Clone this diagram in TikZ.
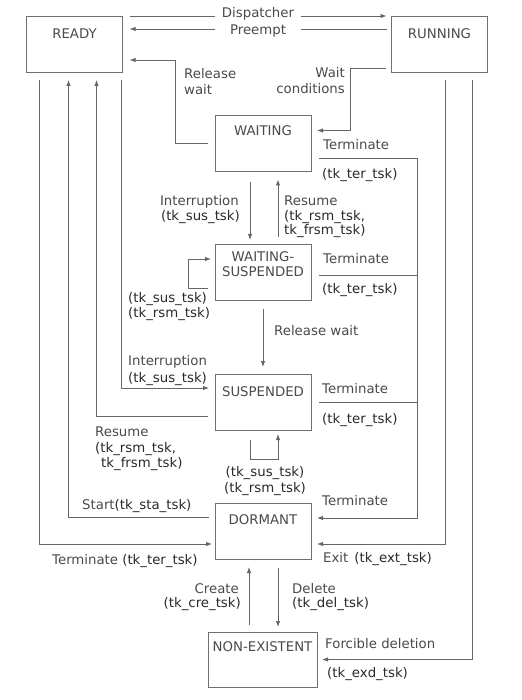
\documentclass[tikz,border=0pt]{standalone}
\usepackage{fontspec}
\setmainfont{DejaVu Sans}
\usetikzlibrary{arrows.meta,calc}
\definecolor{lc}{HTML}{666666}
\definecolor{bc}{HTML}{707070}
\definecolor{tg}{HTML}{4A4A4A}
\definecolor{tkc}{HTML}{2A2830}
\begin{document}
\begin{tikzpicture}[x=1pt,y=-1pt,
  font=\fontsize{13.3}{15}\selectfont,
  box/.style={draw=bc, line width=0.95pt, minimum width=96pt, minimum height=56pt, inner sep=0pt, outer sep=0pt},
  arr/.style={draw=lc, line width=0.9pt, -{Latex[length=6pt,width=4.5pt]}},
  ln/.style={draw=lc, line width=0.9pt},
  lb/.style={text=tg, inner sep=0pt, text height=9.6pt, text depth=0pt},
  tkl/.style={lb, text=tkc},
  gapnode/.style={lb, minimum width=86pt}
]
\useasboundingbox[fill=white] (0,0) rectangle (521,700);

% boxes
\node[box] (ready) at (74.5,44) {};
\node[box] (running) at (439.5,44) {};
\node[box] (waiting) at (263,143.5) {};
\node[box] (wsusp) at (263,272) {};
\node[box] (susp) at (263,402) {};
\node[box] (dormant) at (263,531) {};
\node[box, minimum width=109pt, minimum height=55pt] (nonex) at (262.5,659.5) {};

% box texts
\node[lb] (readyt) at (74.5,34) {READY};
\node[lb] (runningt) at (439.5,34) {RUNNING};
\node[lb] (waitingt) at (263,130.5) {WAITING};
\node[lb] (wsuspt1) at (263,257) {WAITING-};
\node[lb] (wsuspt2) at (263,271.5) {SUSPENDED};
\node[lb] (suspt) at (263,392) {SUSPENDED};
\node[lb] (dormantt) at (263,519.5) {DORMANT};
\node[lb] (nonext) at (262.5,647) {NON-EXISTENT};

% Dispatcher / Preempt
\node[gapnode] (disp) at (258,13) {Dispatcher};
\node[gapnode] (pre) at (258,30) {Preempt};
\coordinate (dy) at ([shift={(0,0)}]ready.north east);
\coordinate (py) at ([shift={(0,13)}]ready.north east);
\draw[ln] ([shift={(7,0)}]ready.north east) -- (disp.west |- dy);
\draw[arr] (disp.east |- dy) -- ([shift={(-5,0)}]running.north west);
\draw[ln] ([shift={(-5,13)}]running.north west) -- (pre.east |- py);
\draw[arr] (pre.west |- py) -- ([shift={(7,13)}]ready.north east);

% Release wait
\draw[arr] ([shift={(-7,0)}]waiting.west) -- ++(-33,0) |- ([shift={(7,-12)}]ready.south east);
\node[lb, anchor=west] (rw1) at (184,74) {Release};
\node[lb, anchor=west] (rw2) at (184,89.5) {wait};

% Wait conditions
\draw[arr] ([shift={(-6,-4)}]running.south west) -- ++(-35,0) |- ([shift={(6,-13)}]waiting.east);
\node[lb, anchor=east] (wc1) at (345,72.5) {Wait};
\node[lb, anchor=east] (wc2) at (345,88.5) {conditions};

% Terminate trunk
\draw[arr] ([shift={(8,-13)}]waiting.south east) -- ++(98,0) |- ([shift={(6,-13)}]dormant.east);
\draw[ln] ([shift={(8,3)}]wsusp.east) -- ++(98,0);
\draw[ln] ([shift={(8,0)}]susp.east) -- ++(98,0);
\node[lb, anchor=west] (t1a) at (323,144.5) {Terminate};
\node[tkl, anchor=west] (t1b) at (322,174) {(tk\_ter\_tsk)};
\node[lb, anchor=west] (t2a) at (323,258.5) {Terminate};
\node[tkl, anchor=west] (t2b) at (322,289) {(tk\_ter\_tsk)};
\node[lb, anchor=west] (t3a) at (322,388.5) {Terminate};
\node[tkl, anchor=west] (t3b) at (322,419) {(tk\_ter\_tsk)};
\node[lb, anchor=west] (t4a) at (322,501) {Terminate};

% Interruption / Resume between waiting and wsusp
\draw[arr] ([shift={(-13,11)}]waiting.south) -- ([shift={(-13,-4)}]wsusp.north);
\draw[arr] ([shift={(15,-7)}]wsusp.north) -- ([shift={(15,8)}]waiting.south);
\node[lb, anchor=east] (i1a) at (239,200.5) {Interruption};
\node[tkl, anchor=east] (i1b) at (240,216) {(tk\_sus\_tsk)};
\node[lb, anchor=west] (r1a) at (284,200.5) {Resume};
\node[tkl, anchor=west] (r1b) at (284,216) {(tk\_rsm\_tsk,};
\node[tkl, anchor=west] (r1c) at (284,230) {tk\_frsm\_tsk)};

% wsusp self loop
\draw[arr] ([shift={(-7,16)}]wsusp.west) -- ++(-20,0) |- ([shift={(-4,-13)}]wsusp.west);
\node[tkl, anchor=west] (l1a) at (128,297.5) {(tk\_sus\_tsk)};
\node[tkl, anchor=west] (l1b) at (128,313) {(tk\_rsm\_tsk)};

% Release wait wsusp -> susp
\draw[arr] ([shift={(0,9)}]wsusp.south) -- ([shift={(0,-7)}]susp.north);
\node[lb, anchor=west] (rw3) at (274,331) {Release wait};

% READY bottom lines
\draw[arr] ([shift={(13,8)}]ready.south west) |- ([shift={(-3,13)}]dormant.west);
\draw[arr] ([shift={(-6,-14)}]dormant.west) -| ([shift={(42,8)}]ready.south west);
\draw[arr] ([shift={(-7,14)}]susp.west) -| ([shift={(70,8)}]ready.south west);
\draw[arr] ([shift={(95,8)}]ready.south west) |- ([shift={(-6,-14)}]susp.west);
\node[lb, anchor=west] (i2a) at (128,361) {Interruption};
\node[tkl, anchor=west] (i2b) at (128,377.5) {(tk\_sus\_tsk)};
\node[lb, anchor=west] (r2a) at (95,431.5) {Resume};
\node[tkl, anchor=west] (r2b) at (95,447.5) {(tk\_rsm\_tsk,};
\node[tkl, anchor=west] (r2c) at (101,462.5) {tk\_frsm\_tsk)};
\node[tkl, anchor=west] (st) at (82,505) {\textcolor{tg}{Start}(tk\_sta\_tsk)};
\node[tkl, anchor=west] (tr) at (52,560) {\textcolor{tg}{Terminate} (tk\_ter\_tsk)};

% susp self loop
\draw[arr] ([shift={(-13,10)}]susp.south) -- ++(0,19) -| ([shift={(15,4)}]susp.south);
\node[tkl] (l2a) at (265,471.5) {(tk\_sus\_tsk)};
\node[tkl] (l2b) at (265,487.5) {(tk\_rsm\_tsk)};

% RUNNING lines
\draw[arr] ([shift={(54,8)}]running.south west) |- ([shift={(6,13)}]dormant.east);
\draw[arr] ([shift={(81,8)}]running.south west) |- ([shift={(5,0)}]nonex.east);
\node[tkl, anchor=west] (ex) at (323,557.5) {\textcolor{tg}{Exit}\hspace{0.45em}(tk\_ext\_tsk)};
\node[lb, anchor=west] (fd1) at (325,644) {Forcible deletion};
\node[tkl, anchor=west] (fd2) at (327,673) {(tk\_exd\_tsk)};

% Create / Delete
\draw[arr] ([shift={(-13.5,-7)}]nonex.north) -- ([shift={(-14,8)}]dormant.south);
\draw[arr] ([shift={(15,9)}]dormant.south) -- ([shift={(15.5,-5)}]nonex.north);
\node[lb, anchor=east] (c1) at (239,589) {Create};
\node[tkl, anchor=east] (c2) at (241,603) {(tk\_cre\_tsk)};
\node[lb, anchor=west] (d1) at (292,589) {Delete};
\node[tkl, anchor=west] (d2) at (292,603) {(tk\_del\_tsk)};
\end{tikzpicture}
\end{document}
